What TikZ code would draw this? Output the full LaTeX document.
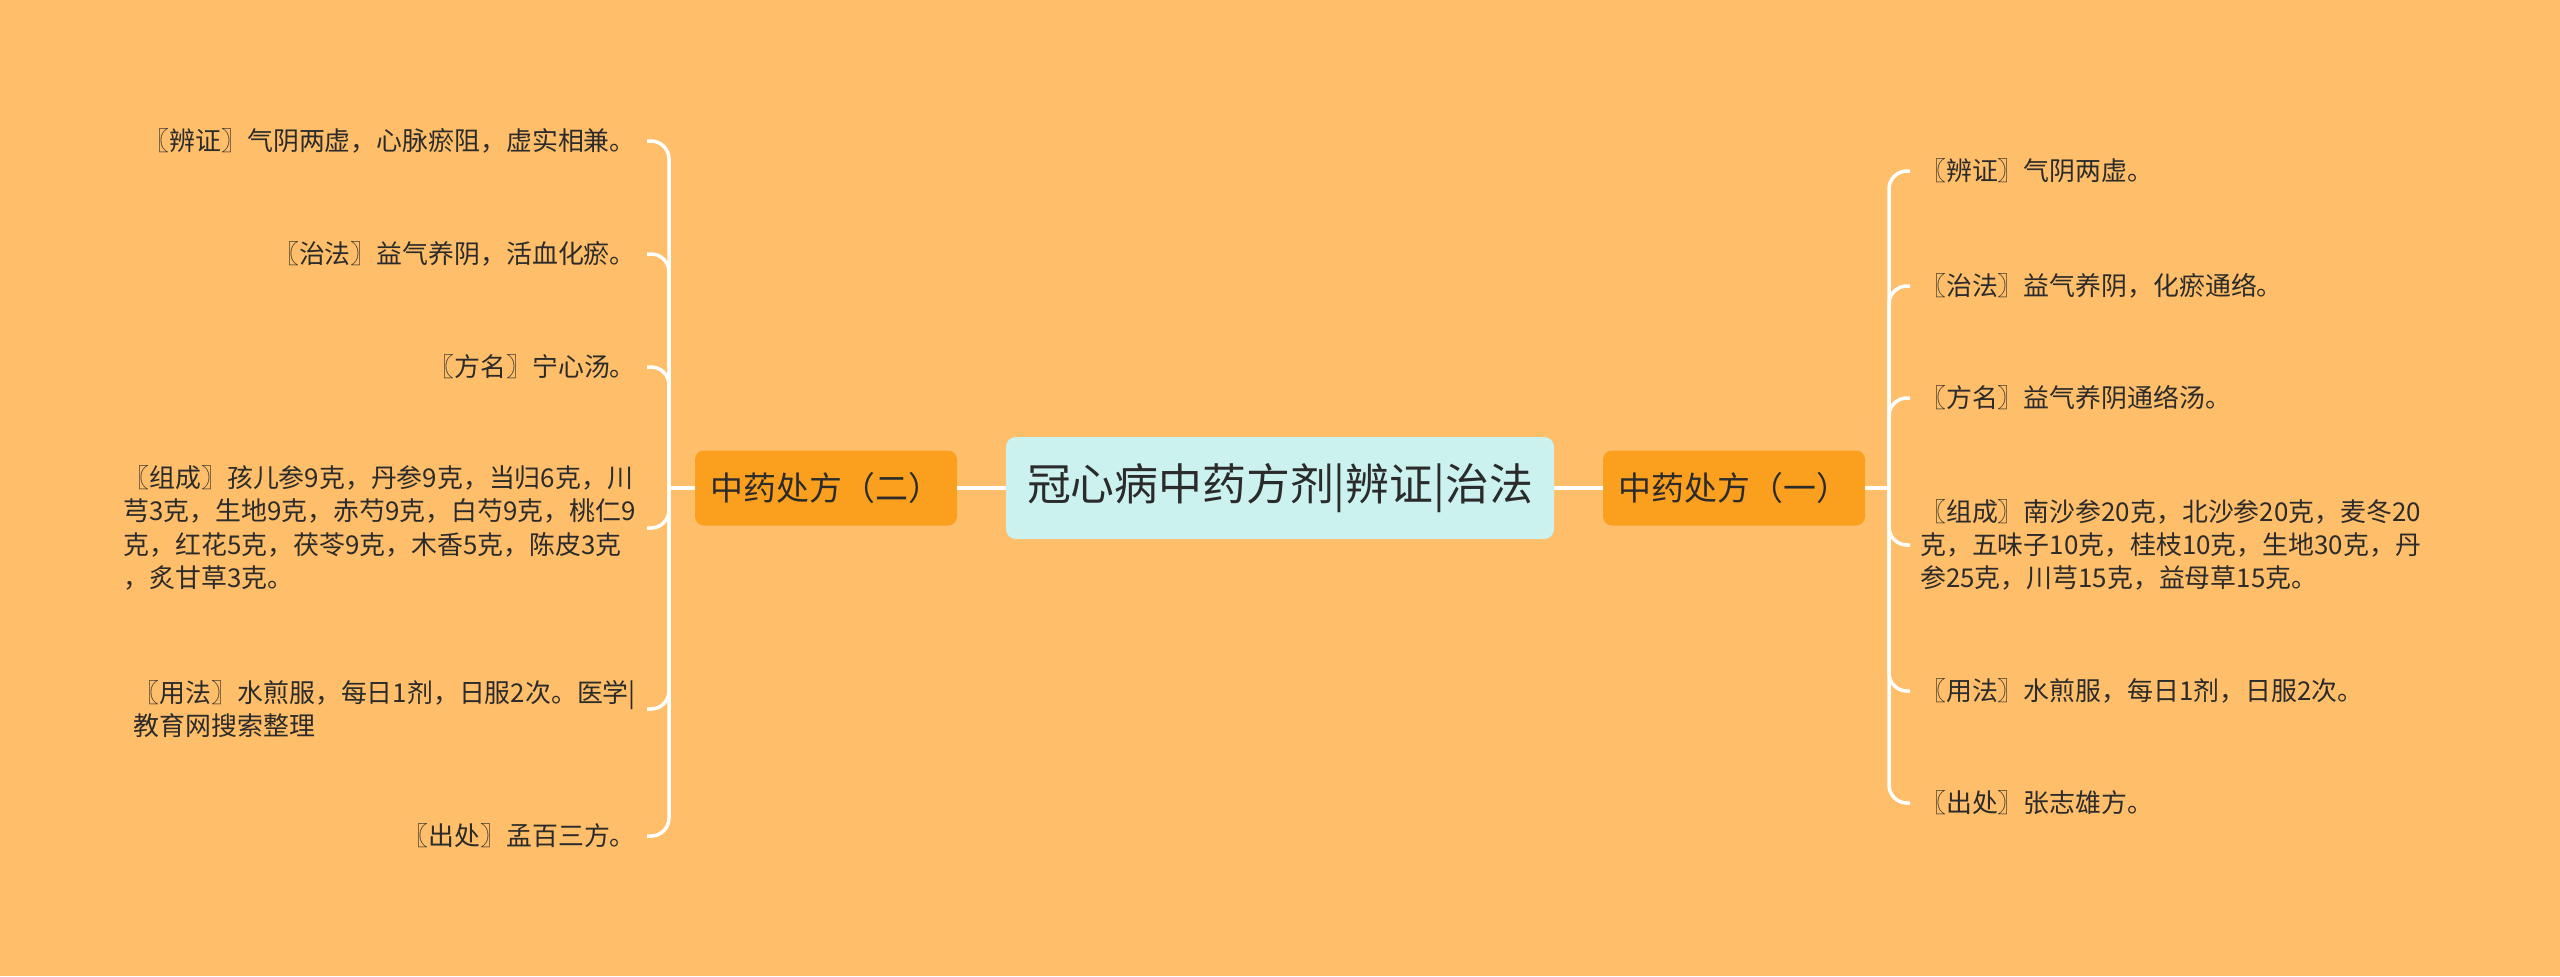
\documentclass[tikz,border=0pt]{standalone}
\usepackage{fontspec}
\newfontfamily\cjk{Noto Sans CJK SC}
\definecolor{bgc}{HTML}{FFBE69}
\definecolor{brc}{HTML}{FA9F1E}
\definecolor{rootc}{HTML}{CCF2F0}
\definecolor{txt}{HTML}{2B2B2B}
\begin{document}
\begin{tikzpicture}[x=1bp,y=-1bp,
  leafL/.style={font=\cjk\fontsize{26}{33.5}\selectfont, text=txt, anchor=east, inner xsep=11bp, inner ysep=0pt, align=left},
  leafR/.style={font=\cjk\fontsize{26}{33.5}\selectfont, text=txt, anchor=west, inner xsep=10bp, inner ysep=0pt, align=left},
  conn/.style={draw=white, line width=3.5bp, rounded corners=18bp},
  branch/.style={fill=brc, rounded corners=9bp, minimum width=262bp, minimum height=75bp, inner sep=0pt, font=\cjk\fontsize{33}{38}\selectfont, text=txt},
  rootbox/.style={fill=rootc, rounded corners=10bp, minimum width=548bp, minimum height=102bp, inner sep=0pt, font=\cjk\fontsize{44}{50}\selectfont, text=txt}]
\useasboundingbox[fill=bgc] (0,0) rectangle (2560,976);

\node[rootbox] (root) at (1280,488) {冠心病中药方剂|辨证|治法};
\node[branch] (lb) at (826,488) {中药处方（二）};
\node[branch] (rb) at (1734,488) {中药处方（一）};

\coordinate (jl) at (669,488);
\coordinate (jr) at (1889,488);

% left leaves
\node[leafL] (l1) at (647,141) {〖辨证〗气阴两虚，心脉瘀阻，虚实相兼。};
\node[leafL] (l2) at (647,254) {〖治法〗益气养阴，活血化瘀。};
\node[leafL] (l3) at (647,367) {〖方名〗宁心汤。};
\node[leafL] (l4) at (647,528) {〖组成〗孩儿参9克，丹参9克，当归6克，川\\芎3克，生地9克，赤芍9克，白芍9克，桃仁9\\克，红花5克，茯苓9克，木香5克，陈皮3克\\，炙甘草3克。};
\node[leafL] (l5) at (647,709) {〖用法〗水煎服，每日1剂，日服2次。医学|\\教育网搜索整理};
\node[leafL] (l6) at (647,836) {〖出处〗孟百三方。};

% right leaves
\node[leafR] (r1) at (1910,171) {〖辨证〗气阴两虚。};
\node[leafR] (r2) at (1910,286) {〖治法〗益气养阴，化瘀通络。};
\node[leafR] (r3) at (1910,398) {〖方名〗益气养阴通络汤。};
\node[leafR] (r4) at (1910,545) {〖组成〗南沙参20克，北沙参20克，麦冬20\\克，五味子10克，桂枝10克，生地30克，丹\\参25克，川芎15克，益母草15克。};
\node[leafR] (r5) at (1910,691) {〖用法〗水煎服，每日1剂，日服2次。};
\node[leafR] (r6) at (1910,803) {〖出处〗张志雄方。};

% connectors
\draw[conn] (root.west) -- (lb.east);
\draw[conn] (root.east) -- (rb.west);
\draw[conn] (lb.west) -- (jl);
\draw[conn] (rb.east) -- (jr);
\foreach \n in {l1,l2,l3,l4,l5,l6} \draw[conn] (jl) |- (\n.east);
\foreach \n in {r1,r2,r3,r4,r5,r6} \draw[conn] (jr) |- (\n.west);
\end{tikzpicture}
\end{document}
